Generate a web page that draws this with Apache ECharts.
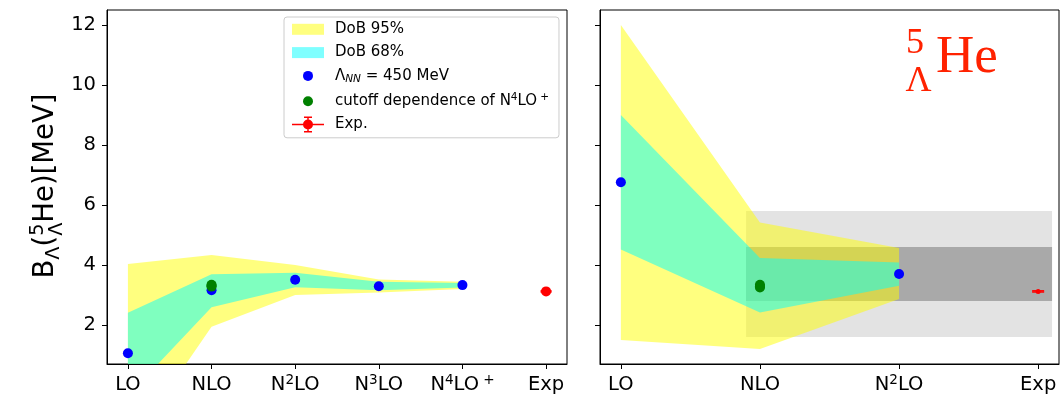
<!DOCTYPE html>
<html>
<head>
<meta charset="utf-8">
<script src="https://cdn.jsdelivr.net/npm/echarts@6/dist/echarts.min.js"></script>
<style>
  html, body { margin: 0; padding: 0; background: #fff; }
  #chart { width: 1061px; height: 395px; }
</style>
</head>
<body>
<div id="chart"></div>
<script>
// ---- data -------------------------------------------------------------
const leftTickLabels = ['LO', 'NLO', 'N^2LO', 'N^3LO', 'N^4LO^+', 'Exp'];
const rightTickLabels = ['LO', 'NLO', 'N^2LO', 'Exp'];
const yTicks = [2, 4, 6, 8, 10, 12];

// left panel: orders LO ... N4LO+
const leftOrders = [0, 1, 2, 3, 4];
const leftCentral = [1.06, 3.16, 3.51, 3.29, 3.33];
const leftDob95Low = [-2.11, 1.94, 3.00, 3.08, 3.20];
const leftDob95High = [4.03, 4.33, 4.00, 3.52, 3.44];
const leftDob68Low = [-0.36, 2.59, 3.26, 3.16, 3.25];
const leftDob68High = [2.41, 3.69, 3.74, 3.44, 3.40];
const leftCutoffOrder = 1;
const leftCutoff = [3.28, 3.31, 3.34];
const leftExpOrder = 5;

// right panel: orders LO ... N2LO
const rightOrders = [0, 1, 2];
const rightCentralOrders = [0, 2];
const rightCentral = [6.76, 3.70];
const rightDob95Low = [1.50, 1.20, 2.87];
const rightDob95High = [12.0, 5.42, 4.57];
const rightDob68Low = [4.52, 2.42, 3.31];
const rightDob68High = [9.00, 4.23, 4.08];
const rightCutoffOrder = 1;
const rightCutoff = [3.25, 3.29, 3.34];
const rightExpOrder = 3;
const rightBoxSpan = [0.9, 3.1];
const rightOuterBox = [1.6, 5.8];
const rightInnerBox = [2.8, 4.6];

// experiment
const expValue = 3.12;
const expError = 0.02;

// ---- styling helpers ----------------------------------------------------
const SANS = 'DejaVu Sans';
const SERIF = 'Liberation Serif';
const YELLOW = 'rgba(255,255,0,0.5)';
const CYAN = 'rgba(0,255,255,0.5)';

// "N^2LO" -> rich text with superscripts ('+' gets a little extra room)
function toRich(label) {
  const parts = label.split(/(\^.)/).filter(s => s.length);
  return parts.map(p => {
    if (p[0] !== '^') return '{n|' + p + '}';
    const ch = p.slice(1);
    return (ch === '+' ? '{supp|' : '{sup|') + ch + '}';
  }).join('');
}

const tickRich = {
  n: { fontFamily: SANS, fontSize: 19.5, lineHeight: 24, color: '#000' },
  sup: { fontFamily: SANS, fontSize: 13.6, lineHeight: 13, verticalAlign: 'top', color: '#000' },
  supp: { fontFamily: SANS, fontSize: 13.6, lineHeight: 13, verticalAlign: 'top', color: '#000', padding: [0, 0, 0, 4] }
};

function xAxisFor(gridIndex, min, max, labels) {
  const idx = labels.map((_, i) => i);
  return {
    type: 'value', gridIndex, min, max,
    axisLine: { show: true, onZero: false, lineStyle: { color: '#000', width: 1 } },
    axisTick: { show: true, customValues: idx, length: 5, lineStyle: { color: '#000', width: 1 } },
    axisLabel: {
      show: true, customValues: idx, margin: 9,
      formatter: v => toRich(labels[Math.round(v)]),
      rich: tickRich
    },
    splitLine: { show: false }
  };
}

function yAxisFor(gridIndex, showLabels) {
  return {
    type: 'value', gridIndex, min: 0.7, max: 12.5,
    axisLine: { show: true, onZero: false, lineStyle: { color: '#000', width: 1 } },
    axisTick: { show: true, customValues: yTicks, length: 5, lineStyle: { color: '#000', width: 1 } },
    axisLabel: {
      show: showLabels, customValues: yTicks, margin: 11,
      fontFamily: SANS, fontSize: 19.5, color: '#000',
      formatter: v => String(v)
    },
    splitLine: { show: false }
  };
}

// filled band between two curves
function bandSeries(name, axis, xs, low, high, color, z) {
  return {
    type: 'custom', name, xAxisIndex: axis, yAxisIndex: axis, z, clip: true, silent: true,
    itemStyle: { color },
    data: xs.map((x, i) => [x, low[i], high[i]]),
    encode: { x: 0, y: [1, 2] },
    renderItem(params, api) {
      if (params.dataIndex !== 0) return null;
      const upper = xs.map((x, i) => api.coord([x, high[i]]));
      const lower = xs.map((x, i) => api.coord([x, low[i]])).reverse();
      return { type: 'polygon', shape: { points: upper.concat(lower) }, style: { fill: color } };
    }
  };
}

// horizontal shaded box spanning [x0,x1] x [y0,y1]
function boxSeries(axis, span, range, color, z) {
  return {
    type: 'custom', xAxisIndex: axis, yAxisIndex: axis, z, clip: true, silent: true,
    data: [[span[0], span[1], range[0], range[1]]],
    encode: { x: [0, 1], y: [2, 3] },
    renderItem(params, api) {
      const a = api.coord([api.value(0), api.value(3)]);
      const b = api.coord([api.value(1), api.value(2)]);
      return { type: 'rect', shape: { x: a[0], y: a[1], width: b[0] - a[0], height: b[1] - a[1] }, style: { fill: color } };
    }
  };
}

function dotSeries(name, axis, xs, ys, color, z) {
  return {
    type: 'scatter', name, xAxisIndex: axis, yAxisIndex: axis, z, silent: true,
    symbol: 'circle', symbolSize: 10,
    itemStyle: { color, opacity: 1 },
    data: xs.map((x, i) => [x, ys[i]])
  };
}

// experimental point with error bar
function expSeries(axis, x, radius, capHalf, z) {
  return {
    type: 'custom', name: 'Exp.', xAxisIndex: axis, yAxisIndex: axis, z, silent: true,
    itemStyle: { color: '#ff0000' },
    data: [[x, expValue, expError]],
    encode: { x: 0, y: 1 },
    renderItem(params, api) {
      const c = api.coord([api.value(0), api.value(1)]);
      const t = api.coord([api.value(0), api.value(1) + api.value(2)]);
      const b = api.coord([api.value(0), api.value(1) - api.value(2)]);
      const line = { stroke: '#ff0000', lineWidth: 1.5 };
      return {
        type: 'group',
        children: [
          { type: 'line', shape: { x1: c[0], y1: t[1], x2: c[0], y2: b[1] }, style: line },
          { type: 'line', shape: { x1: c[0] - capHalf, y1: t[1], x2: c[0] + capHalf, y2: t[1] }, style: line },
          { type: 'line', shape: { x1: c[0] - capHalf, y1: b[1], x2: c[0] + capHalf, y2: b[1] }, style: line },
          { type: 'circle', shape: { cx: c[0], cy: c[1], r: radius }, style: { fill: '#ff0000' } }
        ]
      };
    }
  };
}

// ---- legend icons (32 x 16 boxes) ------------------------------------------
const BOX = 'M0,0M32,16';
const patchIcon = 'path://' + BOX + 'M0,2.5h32v11h-32z';
const dotIcon = 'path://' + BOX + 'M11,8a5,5 0 1,1 10,0a5,5 0 1,1 -10,0z';
const errIcon = 'path://' + BOX +
  'M0,7.25h32v1.5h-32z' +
  'M15.25,0h1.5v16h-1.5z' +
  'M12,0h8v1.5h-8z' +
  'M12,14.5h8v1.5h-8z' +
  'M11,8a5,5 0 1,1 10,0a5,5 0 1,1 -10,0z';

const legendText = {
  'DoB 95%': '{n|DoB 95%}',
  'DoB 68%': '{n|DoB 68%}',
  'central': '{n|Λ}{sub|NN}{n| = 450 MeV}',
  'cutoff': '{n|cutoff dependence of N}{sup|4}{n|LO}{supp|+}',
  'Exp.': '{n|Exp.}'
};

// ---- y-axis title and nucleus label, built from text pieces ----------------
const measureCtx = document.createElement('canvas').getContext('2d');
function textWidth(txt, size, family) {
  measureCtx.font = size + 'px "' + family + '"';
  return measureCtx.measureText(txt).width;
}

function mathLabel(pieces, family, color) {
  // pieces: {t, size, shift (baseline offset, + is down), stacked}
  const K = 0.346;
  let x = 0;
  const out = [];
  pieces.forEach(p => {
    const w = textWidth(p.t, p.size, family);
    out.push({ type: 'text', style: { text: p.t, x, y: p.shift - K * p.size + K * pieces[0].size, fontFamily: family, fontSize: p.size, fill: color, align: 'left', verticalAlign: 'middle' } });
    if (!p.stacked) x += Math.max(w, p.minAdvance || 0);
  });
  return { children: out, width: x };
}

function yTitle() {
  const F = 27.5, s = 19.2;
  const wS = Math.max(textWidth('5', s, SANS), textWidth('Λ', s, SANS));
  const m = mathLabel([
    { t: 'B', size: F, shift: 0 },
    { t: 'Λ', size: s, shift: 0.2 * F },
    { t: '(', size: F, shift: 0 },
    { t: '5', size: s, shift: -0.4 * F, stacked: true },
    { t: 'Λ', size: s, shift: 0.3 * F, minAdvance: wS },
    { t: 'He)[MeV]', size: F, shift: 0 }
  ], SANS, '#000');
  m.children.forEach(c => { c.style.x -= m.width / 2; });
  return { type: 'group', x: 46, y: 186, rotation: Math.PI / 2, children: m.children };
}

function nucleusLabel() {
  const red = '#ff2200';
  const txt = (t, x, baseline, size) => ({
    type: 'text', x, y: baseline - 0.34 * size,
    style: { text: t, fontFamily: SERIF, fontSize: size, fill: red, align: 'left', verticalAlign: 'middle' }
  });
  return {
    type: 'group',
    children: [
      txt('5', 906, 56, 36),
      txt('Λ', 905.5, 94, 36),
      txt('He', 936, 76, 53)
    ]
  };
}

// ---- chart ----------------------------------------------------------------
const chart = echarts.init(document.getElementById('chart'), null, { renderer: 'canvas' });

chart.setOption({
  animation: false,
  backgroundColor: '#fff',
  textStyle: { fontFamily: SANS },
  grid: [
    { left: 107, top: 10, width: 460, height: 354, show: true, borderColor: '#000', borderWidth: 1, outerBoundsMode: 'none' },
    { left: 600, top: 10, width: 459, height: 354, show: true, borderColor: '#000', borderWidth: 1, outerBoundsMode: 'none' }
  ],
  xAxis: [
    xAxisFor(0, -0.25, 5.25, leftTickLabels),
    xAxisFor(1, -0.15, 3.15, rightTickLabels)
  ],
  yAxis: [yAxisFor(0, true), yAxisFor(1, false)],
  legend: {
    orient: 'vertical', left: 284, top: 17,
    padding: [4.3, 10, 5.3, 8],
    itemWidth: 32, itemHeight: 16, itemGap: 7.3,
    borderColor: '#cccccc', borderWidth: 1, borderRadius: 3,
    backgroundColor: 'rgba(255,255,255,0.8)',
    selectedMode: false,
    itemStyle: { borderWidth: 0 },
    data: [
      { name: 'DoB 95%', icon: patchIcon },
      { name: 'DoB 68%', icon: patchIcon },
      { name: 'central', icon: dotIcon },
      { name: 'cutoff', icon: dotIcon },
      { name: 'Exp.', icon: errIcon }
    ],
    formatter: name => legendText[name],
    textStyle: {
      color: '#000', fontFamily: SANS, fontSize: 15, padding: [0, 0, 0, 6],
      rich: {
        n: { fontFamily: SANS, fontSize: 15, lineHeight: 18, color: '#000' },
        sub: { fontFamily: SANS, fontSize: 10.5, fontStyle: 'italic', lineHeight: 9, verticalAlign: 'bottom', color: '#000' },
        sup: { fontFamily: SANS, fontSize: 10.5, lineHeight: 9, verticalAlign: 'top', color: '#000' },
        supp: { fontFamily: SANS, fontSize: 10.5, lineHeight: 9, verticalAlign: 'top', color: '#000', padding: [0, 0, 0, 3] }
      }
    }
  },
  graphic: [yTitle(), nucleusLabel()],
  series: [
    // left panel
    bandSeries('DoB 95%', 0, leftOrders, leftDob95Low, leftDob95High, YELLOW, 2),
    bandSeries('DoB 68%', 0, leftOrders, leftDob68Low, leftDob68High, CYAN, 3),
    dotSeries('central', 0, leftOrders, leftCentral, '#0000ff', 4),
    dotSeries('cutoff', 0, leftCutoff.map(() => leftCutoffOrder), leftCutoff, '#008000', 5),
    expSeries(0, leftExpOrder, 5, 5.5, 6),
    // right panel
    boxSeries(1, rightBoxSpan, rightOuterBox, '#e3e3e3', 1),
    boxSeries(1, rightBoxSpan, rightInnerBox, '#a9a9a9', 1),
    bandSeries('DoB 95%', 1, rightOrders, rightDob95Low, rightDob95High, YELLOW, 2),
    bandSeries('DoB 68%', 1, rightOrders, rightDob68Low, rightDob68High, CYAN, 3),
    dotSeries('central', 1, rightCentralOrders, rightCentral, '#0000ff', 4),
    dotSeries('cutoff', 1, rightCutoff.map(() => rightCutoffOrder), rightCutoff, '#008000', 5),
    expSeries(1, rightExpOrder, 2.5, 6, 6)
  ]
});
</script>
</body>
</html>
